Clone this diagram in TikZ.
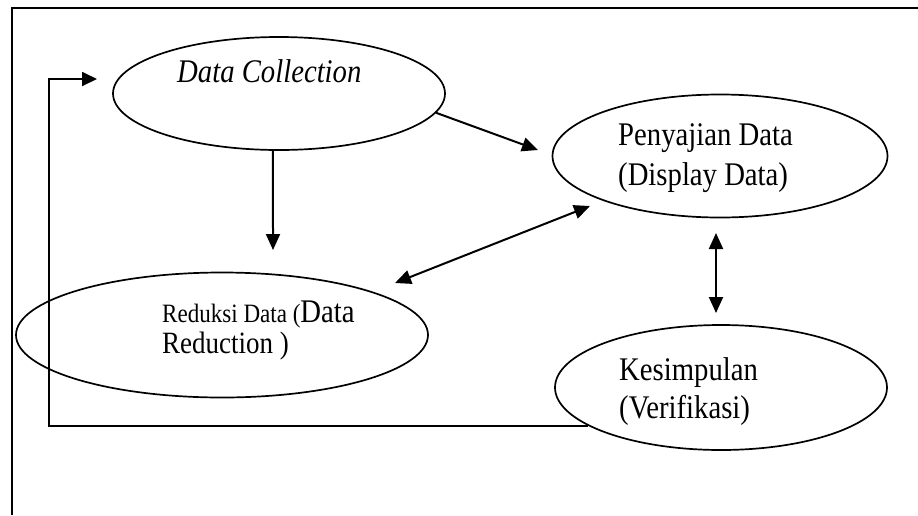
\documentclass[tikz,border=0pt]{standalone}
\usepackage{graphicx}
\usepackage{fontspec}
\setmainfont{Liberation Serif}
\usetikzlibrary{shapes.geometric,arrows.meta}
\newcommand\narrowtxt[1]{\scalebox{0.87}[1]{#1}}
\tikzset{
 ell/.style={ellipse,draw,line width=1.7pt,inner sep=0pt},
 txt/.style={anchor=base west,inner sep=0pt,font=\fontsize{33}{38}\selectfont},
 arr/.style={line width=2pt,-{Triangle[length=16pt,width=14pt]}},
 darr/.style={line width=2pt,{Triangle[length=16pt,width=14pt]}-{Triangle[length=16pt,width=14pt]}},
}
\begin{document}
\begin{tikzpicture}[x=1pt,y=-1pt]
\useasboundingbox (0,0) rectangle (918,515);
\draw[line width=2.5pt] (12,515) -- (12,8) -- (918,8);
% ellipses
\node[ell,minimum width=332pt,minimum height=113pt] (dc) at (279,93.5) {};
\node[ell,minimum width=335pt,minimum height=123pt] (pd) at (720,156) {};
\node[ell,minimum width=412pt,minimum height=125pt] (rd) at (222,335) {};
\node[ell,minimum width=332pt,minimum height=125pt] (ks) at (721,387.5) {};
% texts
\node[txt,font=\fontsize{33}{38}\selectfont\itshape] (tdc) at (177,82) {\narrowtxt{Data Collection}};
\node[txt] (tpd1) at (618,145) {\narrowtxt{Penyajian Data}};
\node[txt] (tpd2) at (618,185) {\narrowtxt{(Display Data)}};
\node[txt] (trd1) at (162,322) {\narrowtxt{{\fontsize{26.5}{30}\selectfont Reduksi Data (}Data}};
\node[txt,font=\fontsize{31}{36}\selectfont] (trd2) at (162,353) {\narrowtxt{Reduction )}};
\node[txt] (tks1) at (619,380) {\narrowtxt{Kesimpulan}};
\node[txt] (tks2) at (619,418) {\narrowtxt{(Verifikasi)}};
% connectors
\coordinate (a1e) at (538,150);
\draw[arr] (dc.-7) -- (a1e);
\coordinate (a2e) at (273,250);
\draw[arr] (dc.-96) -- (a2e);
\coordinate (a3s) at (395,283);
\coordinate (a3e) at (590,206);
\draw[darr] (a3s) -- (a3e);
\coordinate (a4s) at (716,233);
\coordinate (a4e) at (716,313);
\draw[darr] (a4s) -- (a4e);
\coordinate (fbc) at (49,79);
\coordinate (fbt) at (97,79);
\draw[line width=1.8pt,-{Triangle[length=15pt,width=14pt]}] (ks.196) -| (fbc) -- (fbt);
\end{tikzpicture}
\end{document}
